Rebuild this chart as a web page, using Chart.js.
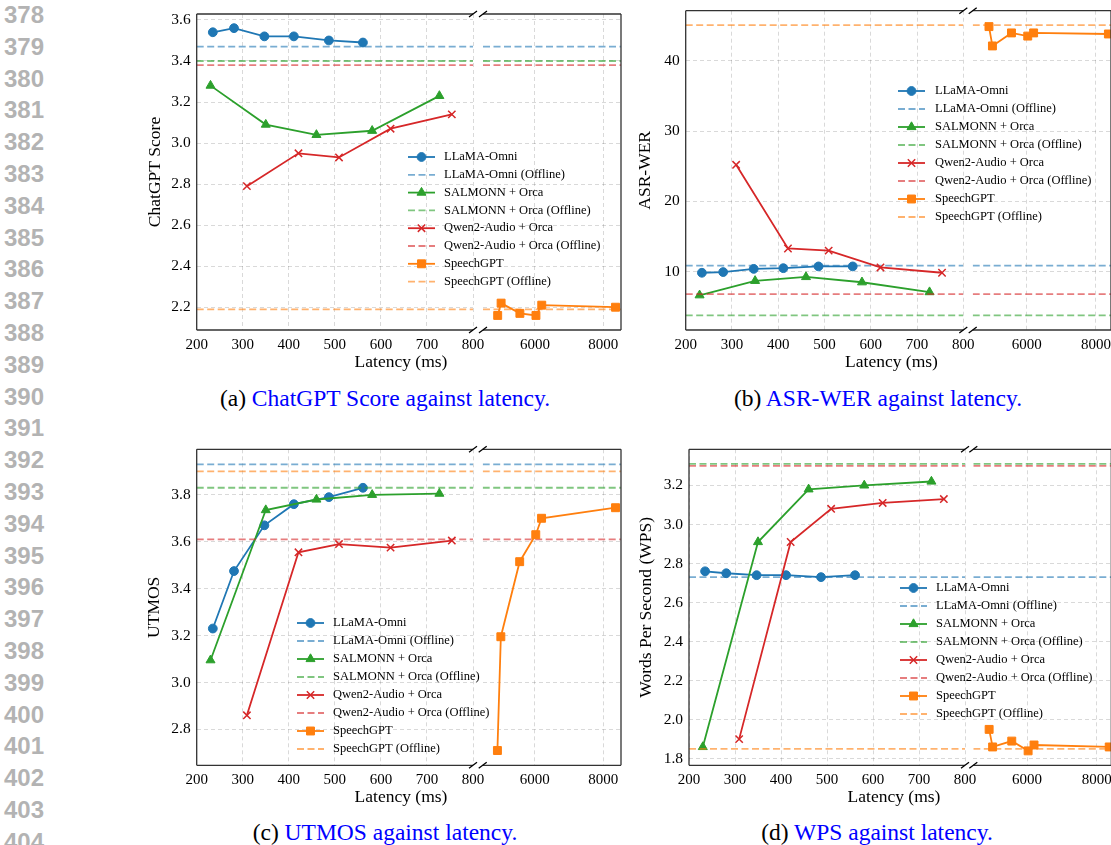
<!DOCTYPE html>
<html>
<head>
<meta charset="utf-8">
<script src="https://cdn.jsdelivr.net/npm/chart.js@4.4.1/dist/chart.umd.min.js"></script>
<style>
html, body { margin: 0; padding: 0; overflow: hidden; background: #fff; }
#page { position: relative; width: 1111px; height: 845px; overflow: hidden; }
canvas { position: absolute; }
.lineno { position: absolute; left: 0; width: 44px; text-align: right; font: bold 24px 'Liberation Sans', sans-serif; color: #b3b3b3; transform: translateY(-50%); }
.caption { position: absolute; font: 23.5px 'Liberation Serif', serif; white-space: nowrap; transform: translate(-50%, -50%); }
.caption span { color: #0000ff; }
</style>
</head>
<body>
<div id="page">
  <div class="caption" style="left:385px;top:398px">(a) <span>ChatGPT Score against latency.</span></div>
  <div class="caption" style="left:878px;top:398px">(b) <span>ASR-WER against latency.</span></div>
  <div class="caption" style="left:385px;top:832px">(c) <span>UTMOS against latency.</span></div>
  <div class="caption" style="left:877px;top:832px">(d) <span>WPS against latency.</span></div>
</div>
<script>
// latency of each run (ms), shared by all four metrics
const llamaLatency = [235, 281, 347, 411, 487, 561];
const salmonnLatency = [230, 350, 460, 581, 727];
const qwenLatency = [309, 421, 509, 621, 754];
const speechGptLatency = [4910, 5010, 5560, 6030, 6200, 8360];

// (a) ChatGPT score
const chatgptLlama = [3.54, 3.56, 3.52, 3.52, 3.50, 3.49];
const chatgptSalmonn = [3.28, 3.09, 3.04, 3.06, 3.23];
const chatgptQwen = [2.79, 2.95, 2.93, 3.07, 3.14];
const chatgptSpeechGpt = [2.16, 2.22, 2.17, 2.16, 2.21, 2.20];
const chatgptOffline = [3.47, 3.40, 3.38, 2.19];

// (b) ASR-WER
const werLlama = [9.85, 9.95, 10.4, 10.5, 10.75, 10.75];
const werSalmonn = [6.65, 8.7, 9.25, 8.5, 7.1];
const werQwen = [25.2, 13.3, 13.0, 10.6, 9.85];
const werSpeechGpt = [44.85, 42.1, 43.95, 43.5, 43.95, 43.8];
const werOffline = [10.85, 3.8, 6.8, 45.05];

// (c) UTMOS
const utmosLlama = [3.23, 3.475, 3.67, 3.76, 3.79, 3.83];
const utmosSalmonn = [3.095, 3.735, 3.78, 3.80, 3.805];
const utmosQwen = [2.86, 3.555, 3.59, 3.575, 3.605];
const utmosSpeechGpt = [2.71, 3.195, 3.515, 3.63, 3.70, 3.745];
const utmosOffline = [3.93, 3.83, 3.61, 3.90];

// (d) words per second
const wpsLlama = [2.76, 2.75, 2.74, 2.74, 2.73, 2.74];
const wpsSalmonn = [1.86, 2.91, 3.18, 3.20, 3.22];
const wpsQwen = [1.90, 2.91, 3.08, 3.11, 3.13];
const wpsSpeechGpt = [1.95, 1.86, 1.89, 1.84, 1.87, 1.86];
const wpsOffline = [2.73, 3.31, 3.30, 1.85];

// ticks
const latencyTicksLeft = [200, 300, 400, 500, 600, 700, 800];
const latencyTicksRight = [6000, 8000];
const chatgptTicks = [2.2, 2.4, 2.6, 2.8, 3.0, 3.2, 3.4, 3.6];
const werTicks = [10, 20, 30, 40];
const utmosTicks = [2.8, 3.0, 3.2, 3.4, 3.6, 3.8];
const wpsTicks = [1.8, 2.0, 2.2, 2.4, 2.6, 2.8, 3.0, 3.2];

const modelNames = ['LLaMA-Omni', 'SALMONN + Orca', 'Qwen2-Audio + Orca', 'SpeechGPT'];

// styles
const modelColors = ['#1f77b4', '#2ca02c', '#d62728', '#ff7f0e'];
const modelMarkers = ['circle', 'triangle', 'crossRot', 'rect'];
const markerRadius = { circle: 4.4, triangle: 5.2, crossRot: 5.2, rect: 5.6 };
const gridColor = 'rgba(0,0,0,0.15)';
const serif = "'Liberation Serif', 'Times New Roman', serif";

Chart.defaults.font.family = serif;
Chart.defaults.color = '#000';

const page = document.getElementById('page');

for (let n = 378; n <= 404; n++) {
    let d = document.createElement('div');
    d.className = 'lineno';
    d.style.top = (15 + (n - 378) * 31.8) + 'px';
    d.textContent = n;
    page.appendChild(d);
}

function alpha(hex, a) {
    let n = parseInt(hex.slice(1), 16);
    return 'rgba(' + (n >> 16) + ',' + ((n >> 8) & 255) + ',' + (n & 255) + ',' + a + ')';
}

function points(xs, ys) {
    return xs.map((x, i) => ({ x: x, y: ys[i] }));
}

function makeCanvas(left, top, width, height) {
    let c = document.createElement('canvas');
    c.width = width;
    c.height = height;
    c.style.left = left + 'px';
    c.style.top = top + 'px';
    page.appendChild(c);
    return c;
}

function drawMarker(ctx, style, x, y, color) {
    let r = markerRadius[style];
    ctx.save();
    ctx.setLineDash([]);
    ctx.fillStyle = color;
    ctx.strokeStyle = color;
    ctx.lineWidth = style === 'crossRot' ? 1.5 : 1;
    ctx.beginPath();
    if (style === 'circle') {
        ctx.arc(x, y, r, 0, Math.PI * 2);
    } else if (style === 'triangle') {
        ctx.moveTo(x, y - r);
        ctx.lineTo(x + r * 0.866, y + r / 2);
        ctx.lineTo(x - r * 0.866, y + r / 2);
        ctx.closePath();
    } else if (style === 'rect') {
        let s = r * Math.SQRT1_2;
        ctx.rect(x - s, y - s, 2 * s, 2 * s);
    } else {
        let s = r * Math.SQRT1_2;
        ctx.moveTo(x - s, y - s); ctx.lineTo(x + s, y + s);
        ctx.moveTo(x - s, y + s); ctx.lineTo(x + s, y - s);
    }
    if (style !== 'crossRot') ctx.fill();
    ctx.stroke();
    ctx.restore();
}

// spines, break marks, legend and x label
const framePlugin = {
    id: 'frame',
    afterDraw(chart, args, o) {
        let ctx = chart.ctx, a = chart.chartArea;
        ctx.save();
        ctx.strokeStyle = '#333';
        ctx.lineWidth = 1.3;
        ctx.beginPath();
        ctx.moveTo(a.left, a.top); ctx.lineTo(a.right, a.top);
        ctx.moveTo(a.left, a.bottom); ctx.lineTo(a.right, a.bottom);
        let sx = o.side === 'left' ? a.left : a.right;
        ctx.moveTo(sx, a.top); ctx.lineTo(sx, a.bottom);
        ctx.stroke();

        let bx = o.side === 'left' ? a.right : a.left;
        ctx.strokeStyle = '#000';
        ctx.beginPath();
        for (let y of [a.top, a.bottom]) {
            ctx.moveTo(bx - 4, y + 3);
            ctx.lineTo(bx + 4, y - 3);
        }
        ctx.stroke();

        if (o.legend) {
            let lg = o.legend;
            ctx.font = '12.5px ' + serif;
            ctx.textBaseline = 'middle';
            ctx.textAlign = 'left';
            ctx.fillStyle = '#000';
            for (let i = 0; i < 8; i++) {
                let m = Math.floor(i / 2), offline = i % 2 === 1;
                let y = lg.y + i * lg.step - o.top;
                let x0 = lg.handle - o.left;
                ctx.save();
                ctx.lineWidth = 1.8;
                ctx.strokeStyle = offline ? alpha(modelColors[m], 0.6) : modelColors[m];
                ctx.setLineDash(offline ? [7, 3.5] : []);
                ctx.beginPath();
                ctx.moveTo(x0, y); ctx.lineTo(x0 + 27, y);
                ctx.stroke();
                ctx.restore();
                if (!offline) drawMarker(ctx, modelMarkers[m], x0 + 13.5, y, modelColors[m]);
                ctx.fillText(modelNames[m] + (offline ? ' (Offline)' : ''), lg.text - o.left, y);
            }
        }
        if (o.xTitle) {
            ctx.font = '17.5px ' + serif;
            ctx.textAlign = 'center';
            ctx.textBaseline = 'middle';
            ctx.fillStyle = '#000';
            ctx.fillText('Latency (ms)', o.xTitle[0] - o.left, o.xTitle[1] - o.top);
        }
        ctx.restore();
    }
};

function onlineDataset(m, xs, ys) {
    return {
        data: points(xs, ys),
        borderColor: modelColors[m],
        borderWidth: 1.8,
        pointStyle: modelMarkers[m],
        pointRadius: markerRadius[modelMarkers[m]],
        pointBackgroundColor: modelColors[m],
        pointBorderColor: modelColors[m],
        pointBorderWidth: modelMarkers[m] === 'crossRot' ? 1.5 : 1,
        order: 10 - 2 * m
    };
}

function offlineDataset(m, value, xMin, xMax) {
    return {
        data: points([xMin, xMax], [value, value]),
        borderColor: alpha(modelColors[m], 0.6),
        borderWidth: 1.8,
        borderDash: [7, 3.5],
        pointRadius: 0,
        order: 9 - 2 * m
    };
}

function BuildSubplot(series, offline, yTicks, yMin, yMax, yLabel, decimals, L) {
    // canvases start well above the plot so tick-label padding never moves the plot area
    let CL = Math.floor(L.left - 60);
    let CT = Math.floor(L.top - 30);
    let CB = Math.ceil(L.bottom + 48);
    let CR = L.canvasRight;

    let leftSets = [];
    let rightSets = [];
    let latencies = [llamaLatency, salmonnLatency, qwenLatency, speechGptLatency];
    for (let m = 0; m < 4; m++) {
        if (m < 3) leftSets.push(onlineDataset(m, latencies[m], series[m]));
        else rightSets.push(onlineDataset(m, latencies[m], series[m]));
        leftSets.push(offlineDataset(m, offline[m], 200, 800));
        rightSets.push(offlineDataset(m, offline[m], L.rightMin, L.rightMax));
    }

    new Chart(makeCanvas(CL, CT, CR - CL, CB - CT), {
        type: 'line',
        data: { datasets: leftSets },
        options: {
            responsive: false,
            animation: false,
            events: [],
            layout: { padding: { left: 0, top: L.top - CT, right: CR - L.mid, bottom: 0 } },
            scales: {
                x: {
                    type: 'linear', min: 200, max: 800,
                    afterBuildTicks: s => { s.ticks = latencyTicksLeft.map(v => ({ value: v })); },
                    afterFit: s => { s.height = CB - L.bottom; },
                    grid: { color: gridColor, drawTicks: false },
                    border: { display: false, dash: [4, 3] },
                    ticks: { padding: 6, font: { size: 15 }, maxRotation: 0, callback: v => String(v) }
                },
                y: {
                    type: 'linear', min: yMin, max: yMax,
                    afterBuildTicks: s => { s.ticks = yTicks.map(v => ({ value: v })); },
                    afterFit: s => { s.width = L.left - CL; },
                    grid: { color: gridColor, drawTicks: false },
                    border: { display: false, dash: [4, 3] },
                    ticks: { padding: 6, font: { size: 15.5 }, callback: v => v.toFixed(decimals) },
                    title: {
                        display: true, text: yLabel, font: { size: 17.5 },
                        padding: { top: L.yTitleX - CL - 10.5, bottom: 0 }
                    }
                }
            },
            plugins: {
                legend: { display: false },
                tooltip: { enabled: false },
                frame: { side: 'left', left: CL, top: CT, legend: L.legend, xTitle: L.xTitle }
            }
        },
        plugins: [framePlugin]
    });

    let RL = Math.floor(L.rightStart - 10);
    let RR = Math.ceil(L.right + 20);
    new Chart(makeCanvas(RL, CT, RR - RL, CB - CT), {
        type: 'line',
        data: { datasets: rightSets },
        options: {
            responsive: false,
            animation: false,
            events: [],
            layout: { padding: { left: L.rightStart - RL, top: L.top - CT, right: RR - L.right, bottom: 0 } },
            scales: {
                x: {
                    type: 'linear', min: L.rightMin, max: L.rightMax,
                    afterBuildTicks: s => { s.ticks = latencyTicksRight.map(v => ({ value: v })); },
                    afterFit: s => { s.height = CB - L.bottom; },
                    grid: { color: gridColor, drawTicks: false },
                    border: { display: false, dash: [4, 3] },
                    ticks: { padding: 6, font: { size: 15 }, maxRotation: 0, callback: v => String(v) }
                },
                y: {
                    type: 'linear', min: yMin, max: yMax,
                    afterBuildTicks: s => { s.ticks = yTicks.map(v => ({ value: v })); },
                    afterFit: s => { s.width = 0; },
                    grid: { color: gridColor, drawTicks: false },
                    border: { display: false, dash: [4, 3] },
                    ticks: { display: false }
                }
            },
            plugins: {
                legend: { display: false },
                tooltip: { enabled: false },
                frame: { side: 'right', left: RL, top: CT }
            }
        },
        plugins: [framePlugin]
    });
}

BuildSubplot([chatgptLlama, chatgptSalmonn, chatgptQwen, chatgptSpeechGpt], chatgptOffline,
    chatgptTicks, 2.089, 3.629, 'ChatGPT Score', 1,
    { left: 196.7, mid: 473, rightStart: 483, right: 621, top: 14, bottom: 330, canvasRight: 630,
      rightMin: 4480, rightMax: 8520, yTitleX: 155, xTitle: [401, 362.5],
      legend: { handle: 408, text: 444, y: 157, step: 17.8 } });

BuildSubplot([werLlama, werSalmonn, werQwen, werSpeechGpt], werOffline,
    werTicks, 1.71, 47.11, 'ASR-WER', 0,
    { left: 685.7, mid: 963.3, rightStart: 972.7, right: 1111, top: 10.7, bottom: 330, canvasRight: 1111,
      rightMin: 4440, rightMax: 8435, yTitleX: 645, xTitle: [891.5, 362.5],
      legend: { handle: 898, text: 935, y: 91, step: 18 } });

BuildSubplot([utmosLlama, utmosSalmonn, utmosQwen, utmosSpeechGpt], utmosOffline,
    utmosTicks, 2.647, 3.994, 'UTMOS', 1,
    { left: 196.7, mid: 473, rightStart: 482.7, right: 621, top: 449.3, bottom: 765.3, canvasRight: 630,
      rightMin: 4480, rightMax: 8520, yTitleX: 154, xTitle: [401, 797],
      legend: { handle: 297, text: 333, y: 623, step: 18 } });

BuildSubplot([wpsLlama, wpsSalmonn, wpsQwen, wpsSpeechGpt], wpsOffline,
    wpsTicks, 1.766, 3.385, 'Words Per Second (WPS)', 1,
    { left: 689, mid: 965, rightStart: 973.3, right: 1111.3, top: 449.3, bottom: 765.3, canvasRight: 1111,
      rightMin: 4455, rightMax: 8420, yTitleX: 646, xTitle: [894, 797],
      legend: { handle: 900, text: 936, y: 588, step: 18 } });
</script>
</body>
</html>
